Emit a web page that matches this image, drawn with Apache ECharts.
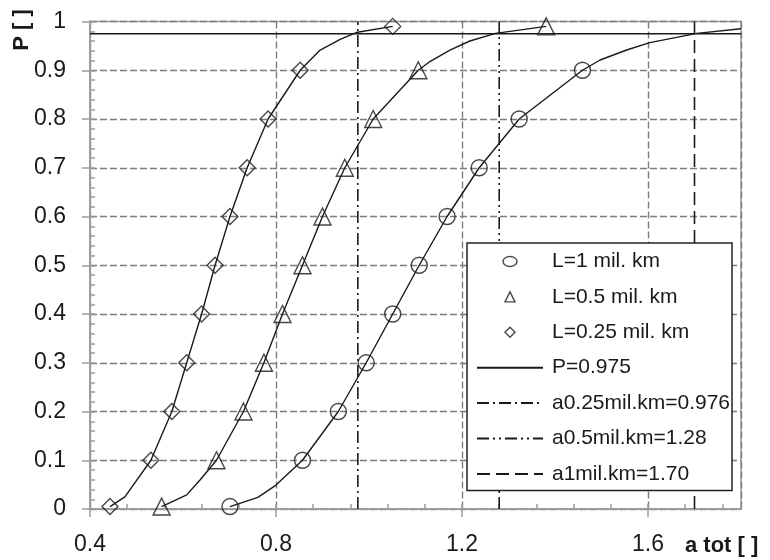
<!DOCTYPE html>
<html>
<head>
<meta charset="utf-8">
<script src="https://cdn.jsdelivr.net/npm/echarts@6/dist/echarts.min.js"></script>
<style>
  html, body { margin: 0; padding: 0; background: #ffffff; }
  #chart { width: 770px; height: 560px; }
</style>
</head>
<body>
<div id="chart"></div>
<script>
// Probability levels at which the markers sit
const pLevels = [0.005, 0.1, 0.2, 0.3, 0.4, 0.5, 0.6, 0.7, 0.8, 0.9, 0.99];

// a tot reached at each probability level, per network length
const aL1   = [0.701, 0.857, 0.934, 0.994, 1.051, 1.108, 1.168, 1.237, 1.323, 1.459];
const aL05  = [0.554, 0.672, 0.730, 0.774, 0.814, 0.857, 0.900, 0.948, 1.009, 1.106, 1.381];
const aL025 = [0.443, 0.531, 0.576, 0.608, 0.640, 0.669, 0.701, 0.738, 0.783, 0.852, 1.051];

// Additional points on the distribution curves between / beyond the markers [a, P]
const curveExtraL1   = [[0.761, 0.024], [0.800, 0.049], [1.497, 0.921], [1.554, 0.9415], [1.604, 0.9566], [1.705, 0.9757], [1.800, 0.985]];
const curveExtraL05  = [[0.608, 0.029], [0.637, 0.060], [1.131, 0.9179], [1.174, 0.9415], [1.217, 0.960], [1.272, 0.9757]];
const curveExtraL025 = [[0.475, 0.025], [0.895, 0.9415], [0.938, 0.9635], [0.975, 0.978]];

// Design probability and the resulting a values
const pDesign = 0.975;
const aDesign025 = 0.976;
const aDesign05 = 1.28;
const aDesign1 = 1.70;

const xMin = 0.4, xMax = 1.8;
const yMin = 0, yMax = 1;

const FONT = '"Liberation Sans", Arial, sans-serif';
const INK = '#1a1a1a';
const AXIS_GREY = '#9c9c9c';
const GRID_GREY = '#7c7c7c';

function markerPoints(aVals) {
  return aVals.map((a, i) => [a, pLevels[i]]);
}
function curvePoints(aVals, extra) {
  return markerPoints(aVals).concat(extra).sort((u, v) => u[0] - v[0]);
}

const markerStyle = { color: 'rgba(0,0,0,0)', borderColor: INK, borderWidth: 1.4 };

function markerSeries(name, symbol, size, aVals) {
  return {
    name: name, type: 'scatter', symbol: symbol, symbolSize: size,
    data: markerPoints(aVals), itemStyle: markerStyle, z: 4, silent: true
  };
}
function curveSeries(id, aVals, extra) {
  return {
    id: id, type: 'line', data: curvePoints(aVals, extra), symbol: 'none',
    lineStyle: { color: INK, width: 1.4 }, z: 3, silent: true
  };
}
function refLine(name, data, dash) {
  return {
    name: name, type: 'line', data: data, symbol: 'none',
    itemStyle: { color: INK },
    lineStyle: { color: INK, width: 1.6, type: dash }, z: 3, silent: true
  };
}

// legend entry for a plain line: no symbol drawn in the middle of the line
const noSymbol = { color: 'rgba(0,0,0,0)', borderWidth: 0, opacity: 0 };

const chart = echarts.init(document.getElementById('chart'), null, { renderer: 'canvas' });

const option = {
  animation: false,
  backgroundColor: '#ffffff',
  textStyle: { fontFamily: FONT, color: INK },
  grid: {
    left: 90, right: 29, top: 21.5, bottom: 51,
    show: true, borderColor: AXIS_GREY, borderWidth: 1.5,
    containLabel: false, outerBoundsMode: 'none'
  },
  xAxis: [
    {
      type: 'value', min: xMin, max: xMax, interval: 0.4, position: 'bottom',
      axisLine: { show: true, onZero: false, lineStyle: { color: AXIS_GREY, width: 2 } },
      axisTick: { show: true, inside: false, length: 8, lineStyle: { color: AXIS_GREY, width: 1.5 } },
      axisLabel: { fontFamily: FONT, fontSize: 23, color: INK, margin: 24, showMaxLabel: false },
      splitLine: { show: true, lineStyle: { color: GRID_GREY, width: 1.4, type: [7, 3] } }
    },
    {
      type: 'value', min: xMin, max: xMax, interval: 0.08, position: 'bottom',
      axisLine: { show: false },
      axisTick: { show: true, inside: true, length: 5, lineStyle: { color: AXIS_GREY, width: 1.5 } },
      axisLabel: { show: false },
      splitLine: { show: false }
    }
  ],
  yAxis: [
    {
      type: 'value', min: yMin, max: yMax, interval: 0.1, position: 'left',
      axisLine: { show: true, onZero: false, lineStyle: { color: AXIS_GREY, width: 2 } },
      axisTick: { show: true, inside: false, length: 8, lineStyle: { color: AXIS_GREY, width: 1.5 } },
      axisLabel: { fontFamily: FONT, fontSize: 23, color: INK, margin: 24 },
      splitLine: { show: true, lineStyle: { color: GRID_GREY, width: 1.4, type: [7, 3] } }
    },
    {
      type: 'value', min: yMin, max: yMax, interval: 0.02, position: 'left',
      axisLine: { show: false },
      axisTick: { show: true, inside: true, length: 5, lineStyle: { color: AXIS_GREY, width: 1.5 } },
      axisLabel: { show: false },
      splitLine: { show: false }
    }
  ],
  legend: {
    orient: 'vertical',
    left: 467, top: 243,
    padding: [8, 2, 6, 9],
    itemWidth: 66, itemHeight: 10, itemGap: 14.4,
    symbolKeepAspect: true,
    backgroundColor: '#ffffff',
    borderColor: '#222222', borderWidth: 1.5,
    itemStyle: { borderWidth: 1.4 },
    textStyle: { fontFamily: FONT, fontSize: 21, lineHeight: 21, color: INK, padding: [0, 0, 0, 4] },
    selectedMode: false,
    data: [
      { name: 'L=1 mil. km', icon: 'path://M0,5A7,5 0 1,1 14,5A7,5 0 1,1 0,5Z' },
      { name: 'L=0.5 mil. km', icon: 'path://M5,0L10,10L0,10Z' },
      { name: 'L=0.25 mil. km', icon: 'path://M5,0L10,5L5,10L0,5Z' },
      { name: 'P=0.975', itemStyle: noSymbol },
      { name: 'a0.25mil.km=0.976', itemStyle: noSymbol },
      { name: 'a0.5mil.km=1.28', itemStyle: noSymbol },
      { name: 'a1mil.km=1.70', itemStyle: noSymbol }
    ]
  },
  graphic: [
    {
      type: 'text', x: 22, y: 30, rotation: Math.PI / 2,
      style: { text: 'P [ ]', font: 'bold 22px ' + FONT, fill: INK, align: 'center', verticalAlign: 'middle' }
    },
    {
      type: 'text', x: 685, y: 546,
      style: { text: 'a tot [ ]', font: 'bold 22px ' + FONT, fill: INK, align: 'left', verticalAlign: 'middle' }
    }
  ],
  series: [
    curveSeries('curve-L1', aL1, curveExtraL1),
    curveSeries('curve-L05', aL05, curveExtraL05),
    curveSeries('curve-L025', aL025, curveExtraL025),
    markerSeries('L=1 mil. km', 'circle', 16, aL1),
    markerSeries('L=0.5 mil. km', 'triangle', 17, aL05),
    markerSeries('L=0.25 mil. km', 'diamond', 16, aL025),
    refLine('P=0.975', [[xMin, pDesign], [xMax, pDesign]], 'solid'),
    refLine('a0.25mil.km=0.976', [[aDesign025, yMin], [aDesign025, yMax]], [12, 4, 2, 4]),
    refLine('a0.5mil.km=1.28', [[aDesign05, yMin], [aDesign05, yMax]], [12, 4, 2, 4, 2, 4]),
    refLine('a1mil.km=1.70', [[aDesign1, yMin], [aDesign1, yMax]], [13, 6])
  ]
};

chart.setOption(option);
</script>
</body>
</html>
